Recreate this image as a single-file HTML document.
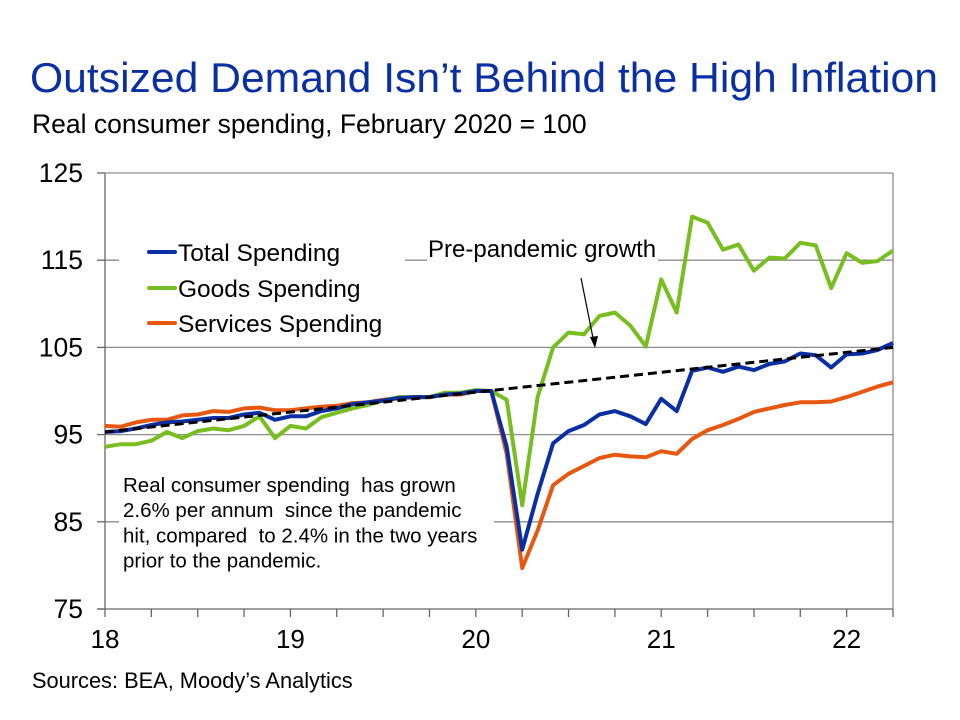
<!DOCTYPE html>
<html><head><meta charset="utf-8"><style>
body{margin:0;background:#fff;}
svg{display:block;font-family:"Liberation Sans",Arial,sans-serif;}
</style></head><body>
<svg id="chart" width="960" height="720" viewBox="0 0 960 720">
<text x="30" y="92" font-size="42" fill="#0a2fa3" textLength="908" lengthAdjust="spacingAndGlyphs">Outsized Demand Isn’t Behind the High Inflation</text>
<text x="32" y="133" font-size="26.5" fill="#000">Real consumer spending, February 2020 = 100</text>
<g id="grid"></g>
<g id="axes"></g>
<g id="series"></g>
<g id="overlays"></g>
<text x="32" y="688" font-size="21.8" fill="#000">Sources: BEA, Moody’s Analytics</text>
</svg>
<script>
const yTicks=[75,85,95,105,115,125];
const xTickLabels=["18","19","20","21","22"];
const total=[95.3,95.4,95.7,96.1,96.4,96.5,96.7,96.9,96.9,97.3,97.5,96.7,97.1,97.1,97.7,98.0,98.5,98.7,98.9,99.2,99.3,99.3,99.6,99.7,100.0,100.0,93.6,81.8,88.2,94.0,95.4,96.1,97.3,97.7,97.1,96.2,99.1,97.7,102.3,102.7,102.2,102.8,102.4,103.1,103.4,104.3,104.1,102.7,104.2,104.3,104.7,105.5];
const goods=[93.6,93.9,93.9,94.3,95.3,94.6,95.4,95.7,95.5,96.0,97.1,94.6,96.0,95.7,97.0,97.5,98.0,98.4,98.9,99.3,99.3,99.3,99.8,99.8,100.1,100.0,99.0,86.9,99.3,105.0,106.7,106.5,108.6,109.0,107.5,105.1,112.8,109.0,120.0,119.3,116.2,116.8,113.8,115.3,115.2,117.0,116.7,111.8,115.8,114.7,114.9,116.1];
const services=[96.0,95.9,96.4,96.7,96.7,97.2,97.3,97.7,97.6,98.0,98.1,97.8,97.8,98.0,98.2,98.3,98.6,98.7,99.0,99.2,99.3,99.3,99.6,99.6,100.0,100.0,92.8,79.7,84.0,89.2,90.5,91.4,92.3,92.7,92.5,92.4,93.1,92.8,94.5,95.5,96.1,96.8,97.6,98.0,98.4,98.7,98.7,98.8,99.3,99.9,100.5,101.0];
const trend=[95.3,105.0];

const NS="http://www.w3.org/2000/svg";
const X0=105,X1=893,Y0=609,Y1=173,N=total.length;
const xs=i=>X0+(X1-X0)*i/(N-1);
const ys=v=>Y0-(v-75)/(125-75)*(Y0-Y1);
function mk(tag,attrs,parent){const e=document.createElementNS(NS,tag);for(const k in attrs)e.setAttribute(k,attrs[k]);parent.appendChild(e);return e;}
const grid=document.getElementById('grid'),axes=document.getElementById('axes'),ser=document.getElementById('series'),ov=document.getElementById('overlays');
yTicks.forEach(v=>{
 if(v>75){const g=mk('line',{x1:X0,x2:X1,y1:ys(v),y2:ys(v),stroke:'#8c8c8c','stroke-width':1.3},grid);
 
 }
 const t=mk('line',{x1:X0-8,x2:X0,y1:ys(v),y2:ys(v),stroke:'#666','stroke-width':1.3},axes);
 
 
 const l=mk('text',{x:83,y:ys(v)+9,'font-size':26.5,'text-anchor':'end',fill:'#000'},axes);l.textContent=v;
 
 
});
const rb=mk('line',{x1:X1,x2:X1,y1:Y1,y2:Y0,stroke:'#8c8c8c','stroke-width':1.3},grid);


const lb=mk('rect',{x:X0+14,y:236,width:286,height:102,fill:'#fff'},grid);


const pb=mk('rect',{x:427,y:236,width:231,height:40,fill:'#fff'},grid);


const tb=mk('rect',{x:X0+14,y:468,width:375,height:108,fill:'#fff'},grid);


const ya=mk('line',{x1:X0,x2:X0,y1:Y1,y2:Y0,stroke:'#666','stroke-width':1.3},axes);


const xa=mk('line',{x1:X0-8,x2:X1,y1:Y0,y2:Y0,stroke:'#666','stroke-width':1.3},axes);


for(let i=0;i<N;i+=3){const t=mk('line',{x1:xs(i),x2:xs(i),y1:Y0,y2:Y0+8,stroke:'#666','stroke-width':1.3},axes);
 
 }
xTickLabels.forEach((s,k)=>{const l=mk('text',{x:xs(k*12),y:648,'font-size':26,'text-anchor':'middle',fill:'#000'},axes);l.textContent=s;
 
 });
function line(arr,color,name){const d=arr.map((v,i)=>(i?'L':'M')+xs(i).toFixed(1)+' '+ys(v).toFixed(1)).join(' ');
 const p=mk('path',{d:d,fill:'none',stroke:color,'stroke-width':4,'stroke-linejoin':'round'},ser);
 
 }
line(services,'#e85710','services-spending-line');
line(goods,'#78be20','goods-spending-line');
line(total,'#0a2fa3','total-spending-line');
const tr=mk('line',{x1:xs(0),y1:ys(trend[0]),x2:xs(N-1),y2:ys(trend[1]),stroke:'#000','stroke-width':3,'stroke-dasharray':'9 5'},ser);


[['Total Spending','#0a2fa3',252],['Goods Spending','#78be20',288],['Services Spending','#e85710',323]].forEach(([s,c,y])=>{
 const g=mk('g',{},ov);
 
 
 mk('line',{x1:149,x2:175,y1:y,y2:y,stroke:c,'stroke-width':4,'stroke-linecap':'round'},g);
 const t=mk('text',{x:178,y:y+9,'font-size':24.5,fill:'#000'},g);t.textContent=s;});
const pl=mk('text',{x:428,y:257,'font-size':24,fill:'#000'},ov);pl.textContent='Pre-pandemic growth';


const ar=mk('line',{x1:581,y1:278,x2:594,y2:343,stroke:'#000','stroke-width':1.2},ov);


const ah=mk('path',{d:'M595 348 L590 337 L598 336 Z',fill:'#000'},ov);


const note=['Real consumer spending  has grown','2.6% per annum  since the pandemic','hit, compared  to 2.4% in the two years','prior to the pandemic.'];
const nt=mk('text',{'font-size':20.5,fill:'#000'},ov);


note.forEach((s,i)=>{const sp=mk('tspan',{x:123,y:492+i*25.2},nt);sp.setAttributeNS('http://www.w3.org/XML/1998/namespace','xml:space','preserve');sp.textContent=s;});
nt.setAttributeNS('http://www.w3.org/XML/1998/namespace','xml:space','preserve');
</script>
</body></html>
